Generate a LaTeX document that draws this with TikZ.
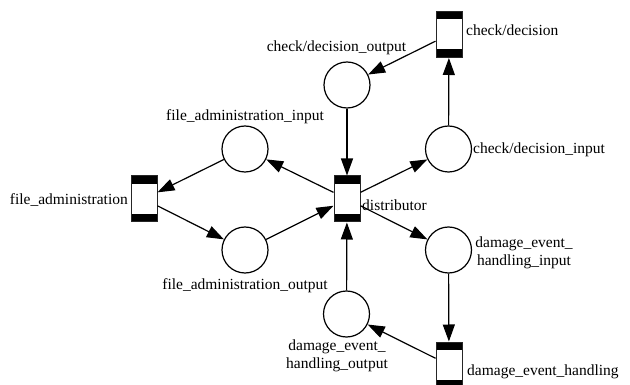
\documentclass[tikz,border=0pt]{standalone}
\usepackage{fontspec}
\setmainfont{Liberation Serif}
\usetikzlibrary{arrows.meta}

\tikzset{
  trans/.style={rectangle, draw=black!85, line width=1pt, fill=white,
    minimum width=26pt, minimum height=46pt, inner sep=0pt,
    path picture={
      \fill[black] (path picture bounding box.north west) rectangle
        ([yshift=-8pt]path picture bounding box.north east);
      \fill[black] (path picture bounding box.south west) rectangle
        ([yshift=8pt]path picture bounding box.south east);
    }},
  place/.style={circle, draw=black, line width=1.2pt, fill=white,
    minimum size=46pt, inner sep=0pt},
  lbl/.style={inner sep=0pt, align=center,
    font=\fontsize{15.5}{18}\selectfont},
  arc/.style={line width=1.2pt, -{Triangle[length=17pt,width=12pt]}},
}

\begin{document}
\begin{tikzpicture}[x=1pt, y=-1pt]
  \useasboundingbox (0,0) rectangle (630,385);

  % transitions
  \node[trans] (cd)   at (449,34.5) {};
  \node[trans] (fa)   at (144,199)  {};
  \node[trans] (dist) at (347,199)  {};
  \node[trans] (deh)  at (449,365)  {};

  % places
  \node[place] (cdo)  at (347,85)    {};
  \node[place] (cdi)  at (448.5,149) {};
  \node[place] (fai)  at (245,149)   {};
  \node[place] (fao)  at (245,250)   {};
  \node[place] (dehi) at (448.5,250) {};
  \node[place] (deho) at (346.5,314) {};

  % labels
  \node[lbl, anchor=west] (lcd)   at (466,30)  {check/decision};
  \node[lbl]              (lcdo)  at (336.5,48) {check/decision\_output};
  \node[lbl, anchor=west] (lcdi)  at (473,150) {check/decision\_input};
  \node[lbl]              (lfai)  at (245,117) {file\_administration\_input};
  \node[lbl, anchor=east] (lfa)   at (128,200) {file\_administration};
  \node[lbl, anchor=west] (ldist) at (362,205) {distributor};
  \node[lbl]              (lfao)  at (245,286) {file\_administration\_output};
  \node[lbl]              (ldehi) at (524,253) {damage\_event\_\\handling\_input};
  \node[lbl]              (ldeho) at (337,356) {damage\_event\_\\handling\_output};
  \node[lbl, anchor=west] (ldeh)  at (467,372) {damage\_event\_handling};

  % arcs
  \draw[arc] (cd)   -- (cdo);
  \draw[arc] (cdo)  -- (dist);
  \draw[arc] (dist) -- (cdi);
  \draw[arc] (cdi)  -- (cd);
  \draw[arc] (dist) -- (fai);
  \draw[arc] (fai)  -- (fa);
  \draw[arc] (fa)   -- (fao);
  \draw[arc] (fao)  -- (dist);
  \draw[arc] (dist) -- (dehi);
  \draw[arc] (dehi) -- (deh);
  \draw[arc] (deh)  -- (deho);
  \draw[arc] (deho) -- (dist);
\end{tikzpicture}
\end{document}
